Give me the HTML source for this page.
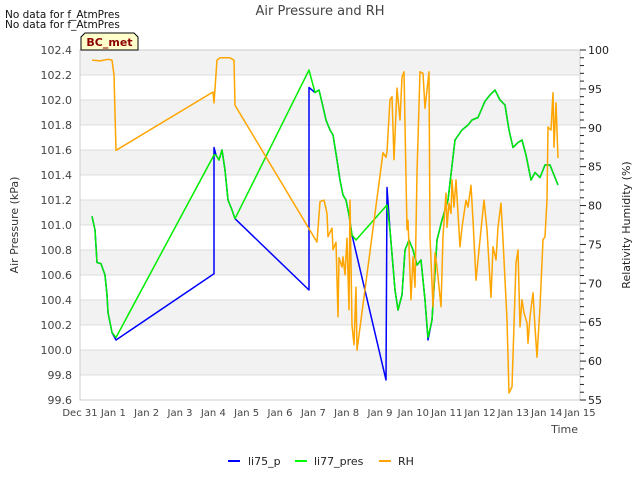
<!DOCTYPE html>
<html><head><meta charset="utf-8"><style>
body{margin:0;background:#fff;font-family:"Liberation Sans","DejaVu Sans",sans-serif;}
svg text{font-family:"DejaVu Sans","Liberation Sans",sans-serif;}
</style></head><body>
<svg id="chart" width="640" height="480" xmlns="http://www.w3.org/2000/svg">
<g id="bands"></g>
<g id="grid"></g>
<g id="series"></g>
<rect x="80" y="50" width="500" height="350" fill="none" stroke="#ccc"/>
<g id="yl" font-size="11" fill="#444" text-anchor="end"></g>
<g id="yr" font-size="11" fill="#222"></g>
<g id="xl" font-size="10" fill="#444" text-anchor="middle"></g>
<text x="320" y="15" font-size="13" fill="#444" text-anchor="middle">Air Pressure and RH</text>
<text x="5" y="18" font-size="10.5" fill="#111">No data for f_AtmPres</text>
<text x="5" y="28" font-size="10.5" fill="#111">No data for f_AtmPres</text>
<g>
<path d="M81,50 L81,37 L85,33 L134,33 L138,37 L138,50 Z" fill="#ffffcc" stroke="#000"/>
<text x="109.5" y="46" font-size="11" font-weight="bold" fill="#8b0000" text-anchor="middle">BC_met</text>
</g>
<text transform="translate(18,225) rotate(-90)" font-size="11" fill="#333" text-anchor="middle">Air Pressure (kPa)</text>
<text transform="translate(630,225) rotate(-90)" font-size="11" fill="#222" text-anchor="middle">Relativity Humidity (%)</text>
<text x="578" y="433" font-size="11" fill="#444" text-anchor="end">Time</text>
<g font-size="11" fill="#222">
<g><line x1="228" y1="461" x2="240" y2="461" stroke="#0000ff" stroke-width="2"/><text x="248" y="465">li75_p</text></g>
<g><line x1="295" y1="461" x2="307" y2="461" stroke="#00ff00" stroke-width="2"/><text x="314" y="465">li77_pres</text></g>
<g><line x1="379" y1="461" x2="391" y2="461" stroke="#ffa500" stroke-width="2"/><text x="398" y="465">RH</text></g>
</g>
</svg>
<script>
const xTickLabels=["Dec 31","Jan 1","Jan 2","Jan 3","Jan 4","Jan 5","Jan 6","Jan 7","Jan 8","Jan 9","Jan 10","Jan 11","Jan 12","Jan 13","Jan 14","Jan 15"];
const leftTicks=[99.6,99.8,100.0,100.2,100.4,100.6,100.8,101.0,101.2,101.4,101.6,101.8,102.0,102.2,102.4];
const rightTicks=[55,60,65,70,75,80,85,90,95,100];
const p75Days=[0.36,0.45,0.51,0.63,0.75,0.81,0.84,0.96,1.08,4.02,4.02,4.08,4.17,4.26,4.35,4.44,4.56,4.65,6.87,6.87,7.05,7.17,7.26,7.38,7.5,7.59,7.71,7.8,7.89,7.98,8.07,8.16,9.18,9.21,9.3,9.45,9.54,9.66,9.75,9.87,9.99,10.11,10.23,10.35,10.44,10.56,10.71,10.86,11.04,11.25,11.46,11.64,11.76,11.94,12.15,12.3,12.45,12.6,12.75,12.87,12.99,13.14,13.26,13.38,13.53,13.65,13.8,13.95,14.1,14.19,14.34];
const p75Vals=[101.07,100.96,100.70,100.69,100.60,100.44,100.30,100.14,100.08,100.61,101.62,101.56,101.52,101.60,101.44,101.20,101.12,101.05,100.48,102.10,102.06,102.08,101.98,101.84,101.76,101.72,101.52,101.36,101.24,101.20,101.08,100.92,99.76,101.30,100.96,100.48,100.32,100.44,100.80,100.88,100.80,100.68,100.72,100.40,100.08,100.24,100.88,101.04,101.20,101.68,101.76,101.80,101.84,101.86,101.99,102.04,102.08,102.00,101.96,101.76,101.62,101.66,101.68,101.56,101.36,101.42,101.38,101.48,101.48,101.42,101.32];
const p77Days=[0.36,0.45,0.51,0.63,0.75,0.81,0.84,0.96,1.08,4.02,4.08,4.17,4.26,4.35,4.44,4.56,4.65,6.87,7.05,7.17,7.26,7.38,7.5,7.59,7.71,7.8,7.89,7.98,8.07,8.16,8.28,9.21,9.3,9.45,9.54,9.66,9.75,9.87,9.99,10.11,10.23,10.35,10.44,10.56,10.71,10.86,11.04,11.25,11.46,11.64,11.76,11.94,12.15,12.3,12.45,12.6,12.75,12.87,12.99,13.14,13.26,13.38,13.53,13.65,13.8,13.95,14.1,14.19,14.34];
const p77Vals=[101.07,100.96,100.70,100.69,100.60,100.44,100.30,100.14,100.10,101.56,101.56,101.52,101.60,101.44,101.20,101.12,101.05,102.24,102.06,102.08,101.98,101.84,101.76,101.72,101.52,101.36,101.24,101.20,101.08,100.92,100.88,101.16,100.96,100.48,100.32,100.44,100.80,100.88,100.80,100.68,100.72,100.40,100.10,100.24,100.88,101.04,101.20,101.68,101.76,101.80,101.84,101.86,101.99,102.04,102.08,102.00,101.96,101.76,101.62,101.66,101.68,101.56,101.36,101.42,101.38,101.48,101.48,101.42,101.32];
const rhDays=[0.36,0.6,0.84,0.96,1.02,1.08,3.99,4.02,4.11,4.2,4.5,4.62,4.65,7.11,7.2,7.32,7.41,7.44,7.56,7.59,7.68,7.74,7.77,7.86,7.89,7.95,8.01,8.07,8.1,8.16,8.22,8.28,8.31,9.09,9.18,9.21,9.3,9.36,9.42,9.51,9.6,9.66,9.72,9.81,9.84,9.93,9.99,10.05,10.11,10.2,10.29,10.35,10.47,10.5,10.59,10.65,10.71,10.83,10.89,10.98,11.01,11.07,11.13,11.16,11.22,11.28,11.34,11.4,11.46,11.58,11.64,11.73,11.79,11.88,12.0,12.12,12.21,12.33,12.39,12.48,12.54,12.63,12.69,12.81,12.87,12.96,13.08,13.14,13.2,13.26,13.32,13.41,13.44,13.5,13.59,13.65,13.71,13.8,13.89,13.95,14.01,14.04,14.13,14.19,14.22,14.28,14.34];
const rhVals=[98.7,98.6,98.8,98.7,96.8,87.1,94.6,93.2,98.7,99.0,99.0,98.7,92.9,75.3,80.5,80.7,79.0,76.0,77.1,74.3,75.3,65.7,73.3,72.1,73.4,71.1,75.8,66.6,80.7,64.6,62.1,69.5,61.4,86.8,86.2,86.9,93.6,94.0,85.9,95.1,91.0,96.5,97.2,76.9,78.1,67.9,73.4,69.5,84.2,97.2,97.0,92.5,97.2,76.0,67.0,73.9,72.1,67.0,76.0,81.6,77.2,80.3,79.0,83.3,79.8,83.3,79.0,74.7,77.2,80.7,79.8,82.6,78.1,70.4,75.6,80.7,76.9,68.2,74.7,73.0,77.2,80.3,75.6,65.3,55.9,56.7,72.6,74.3,64.4,67.9,66.2,64.9,62.3,65.7,68.8,64.4,60.5,67.0,75.6,76.0,80.7,90.1,89.7,94.5,87.5,93.2,86.1];

const X0=80,X1=580,Y0=50,Y1=400;
const xs=d=>X0+(X1-X0)*d/15;
const yp=p=>Y1-(Y1-Y0)*(p-99.6)/2.8;
const yh=h=>Y1-(Y1-Y0)*(h-55)/45;
const NS="http://www.w3.org/2000/svg";
function mk(tag,parent,attrs){const e=document.createElementNS(NS,tag);for(const k in attrs)e.setAttribute(k,attrs[k]);document.getElementById(parent).appendChild(e);return e;}
for(let i=0;i<leftTicks.length-1;i++){
  if((leftTicks.length-2-i)%2===0){
    const b=mk('rect','bands',{x:X0,y:yp(leftTicks[i+1]),width:X1-X0,height:yp(leftTicks[i])-yp(leftTicks[i+1]),fill:'#f2f2f2'});
    
    
  }
}
leftTicks.forEach(v=>{
  const g=mk('line','grid',{x1:X0,x2:X1,y1:yp(v),y2:yp(v),stroke:'#dcdcdc'});
  
  
  const t=mk('text','yl',{x:X0-8,y:yp(v)+4});
  
  
  t.textContent=v.toFixed(1);
});
for(let h=55;h<=100;h++){
  const tk=mk('line','yr',{x1:X1,x2:X1+(h%5===0?6:4),y1:yh(h),y2:yh(h),stroke:'#222'});
  
  
}
rightTicks.forEach(v=>{
  const t=mk('text','yr',{x:X1+8,y:yh(v)+4});
  
  
  t.textContent=v;
});
xTickLabels.forEach((l,i)=>{
  const t=mk('text','xl',{x:xs(i),y:Y1+16});
  
  
  t.textContent=l;
});
function line(days,vals,yf,color,name){
  const pts=days.map((d,i)=>xs(d).toFixed(1)+','+yf(vals[i]).toFixed(1)).join(' ');
  const e=mk('polyline','series',{points:pts,fill:'none',stroke:color,'stroke-width':1.5,'stroke-linejoin':'round'});
  
  
}
line(p75Days,p75Vals,yp,'#0000ff','li75-p-line');
line(p77Days,p77Vals,yp,'#00ee00','li77-pres-line');
line(rhDays,rhVals,yh,'#ffa500','rh-line');
</script>
</body></html>
